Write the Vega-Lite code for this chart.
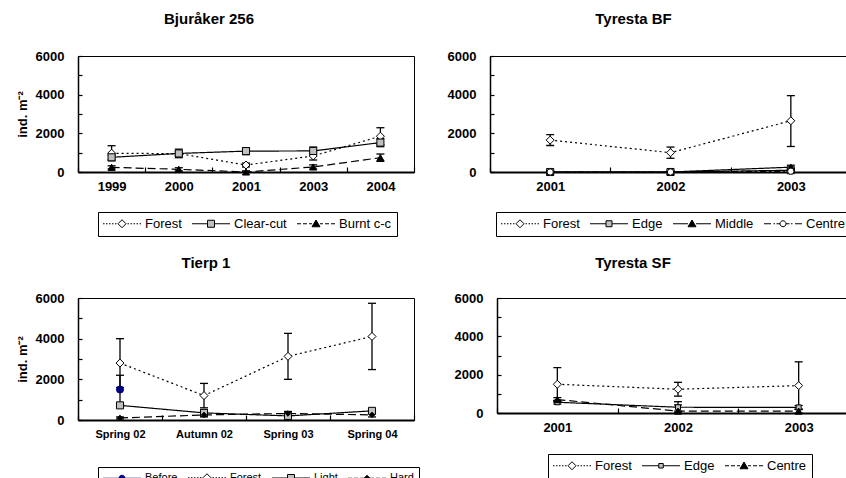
{
  "$schema": "https://vega.github.io/schema/vega-lite/v6.json",
  "padding": {"left": 15, "top": 11, "right": 0, "bottom": 0},
  "background": "white",
  "spacing": 18,
  "resolve": {"scale": {"shape": "independent", "fill": "independent", "stroke": "independent"}, "legend": {"shape": "independent", "fill": "independent", "stroke": "independent"}},
  "vconcat": [
    {
      "resolve": {"scale": {"shape": "independent", "fill": "independent", "stroke": "independent"}, "legend": {"shape": "independent", "fill": "independent", "stroke": "independent"}},
      "hconcat": [
        {
          "width": 336, "height": 116,
          "title": {"text": "Bjuråker 256", "dx": -37, "offset": 23},
          "data": {"values": [
            {"s":"Forest","x":"1999","y":970,"lo":580,"hi":1360},
            {"s":"Forest","x":"2000","y":950,"lo":850,"hi":1050},
            {"s":"Forest","x":"2001","y":360,"lo":260,"hi":460},
            {"s":"Forest","x":"2003","y":830,"lo":620,"hi":1040},
            {"s":"Forest","x":"2004","y":1850,"lo":1410,"hi":2290},
            {"s":"Clear-cut","x":"1999","y":760,"lo":650,"hi":870},
            {"s":"Clear-cut","x":"2000","y":960,"lo":740,"hi":1180},
            {"s":"Clear-cut","x":"2001","y":1080,"lo":900,"hi":1260},
            {"s":"Clear-cut","x":"2003","y":1090,"lo":890,"hi":1290},
            {"s":"Clear-cut","x":"2004","y":1520,"lo":1310,"hi":1730},
            {"s":"Burnt c-c","x":"1999","y":240,"lo":160,"hi":320},
            {"s":"Burnt c-c","x":"2000","y":140,"lo":60,"hi":220},
            {"s":"Burnt c-c","x":"2001","y":0,"lo":0,"hi":60},
            {"s":"Burnt c-c","x":"2003","y":260,"lo":150,"hi":370},
            {"s":"Burnt c-c","x":"2004","y":740,"lo":550,"hi":930}
          ]},
          "encoding": {
            "x": {"field": "x", "type": "ordinal", "scale": {"type": "band", "paddingInner": 0, "paddingOuter": 0, "domain": ["1999","2000","2001","2003","2004"]},
                  "axis": {"title": null, "tickBand": "extent", "tickSize": -5, "labelPadding": 13, "domainWidth": 2, "labelAngle": 0}}
          },
          "layer": [
            {"mark": {"type": "rule", "color": "black", "strokeWidth": 1.3},
             "encoding": {"y": {"field": "lo", "type": "quantitative", "scale": {"domain": [0, 6000], "nice": false}, "axis": {"values": [0,1000,2000,3000,4000,5000,6000], "format": "d", "labelExpr": "datum.value % 2000 === 0 ? datum.label : ''", "tickSize": -4, "labelPadding": 18, "domainWidth": 1.5, "title": "ind. m⁻²", "titlePadding": 6}}, "y2": {"field": "hi"}}},
            {"mark": {"type": "tick", "color": "black", "thickness": 1.3, "size": 8, "orient": "horizontal", "opacity": 1},
             "encoding": {"y": {"field": "lo", "type": "quantitative", "scale": {"domain": [0, 6000], "nice": false}, "axis": {"values": [0,1000,2000,3000,4000,5000,6000], "format": "d", "labelExpr": "datum.value % 2000 === 0 ? datum.label : ''", "tickSize": -4, "labelPadding": 18, "domainWidth": 1.5, "title": "ind. m⁻²", "titlePadding": 6}}}},
            {"mark": {"type": "tick", "color": "black", "thickness": 1.3, "size": 8, "orient": "horizontal", "opacity": 1},
             "encoding": {"y": {"field": "hi", "type": "quantitative", "scale": {"domain": [0, 6000], "nice": false}, "axis": {"values": [0,1000,2000,3000,4000,5000,6000], "format": "d", "labelExpr": "datum.value % 2000 === 0 ? datum.label : ''", "tickSize": -4, "labelPadding": 18, "domainWidth": 1.5, "title": "ind. m⁻²", "titlePadding": 6}}}},
            {"mark": {"type": "line", "color": "black", "strokeWidth": 1.2},
             "encoding": {
               "y": {"field": "y", "type": "quantitative", "scale": {"domain": [0, 6000], "nice": false}, "axis": {"values": [0,1000,2000,3000,4000,5000,6000], "format": "d", "labelExpr": "datum.value % 2000 === 0 ? datum.label : ''", "tickSize": -4, "labelPadding": 18, "domainWidth": 1.5, "title": "ind. m⁻²", "titlePadding": 6}},
               "detail": {"field": "s", "type": "nominal"},
               "strokeDash": {"condition": [{"test": "datum.s === 'Forest'", "value": [2,3]}, {"test": "datum.s === 'Burnt c-c'", "value": [8,4]}], "value": [1,0]},
               "order": {"value": null}
             }},
            {"mark": {"type": "point", "filled": true, "opacity": 1, "strokeWidth": 1, "stroke": "black"},
             "encoding": {
               "y": {"field": "y", "type": "quantitative", "scale": {"domain": [0, 6000], "nice": false}, "axis": {"values": [0,1000,2000,3000,4000,5000,6000], "format": "d", "labelExpr": "datum.value % 2000 === 0 ? datum.label : ''", "tickSize": -4, "labelPadding": 18, "domainWidth": 1.5, "title": "ind. m⁻²", "titlePadding": 6}},
               "shape": {"condition": [{"test": "datum.s === 'Forest'", "value": "diamond"}, {"test": "datum.s === 'Clear-cut'", "value": "square"}], "value": "triangle-up"},
               "fill": {"condition": [{"test": "datum.s === 'Forest'", "value": "white"}, {"test": "datum.s === 'Clear-cut'", "value": "#c0c0c0"}], "value": "black"},
               "size": {"condition": [{"test": "datum.s === 'Forest'", "value": 64}], "value": 50}
             }},
            {"mark": {"type": "point", "filled": true, "opacity": 0},
             "encoding": {
               "y": {"field": "y", "type": "quantitative", "scale": {"domain": [0, 6000], "nice": false}, "axis": {"values": [0,1000,2000,3000,4000,5000,6000], "format": "d", "labelExpr": "datum.value % 2000 === 0 ? datum.label : ''", "tickSize": -4, "labelPadding": 18, "domainWidth": 1.5, "title": "ind. m⁻²", "titlePadding": 6}},
               "shape": {"field": "s", "type": "nominal", "scale": {"domain": ["Forest","Clear-cut","Burnt c-c"], "range": ["M-3.8,0h0.3M-3.2,0h0.3M-2.6,0h0.3M-2,0h0.3M-1.4,0h0.3M1.1,0h0.3M1.7,0h0.3M2.3,0h0.3M2.9,0h0.3M3.5,0h0.3M0,-0.8L0.8,0L0,0.8L-0.8,0Z", "M-3.8,0H-0.7M0.7,0H3.8M-0.7,-0.7H0.7V0.7H-0.7Z", "M-3.8,0H-3M-2.6,0H-1.8M-1.4,0H-0.8M0.8,0H1.4M1.8,0H2.6M3,0H3.8M0,-0.75L0.8,0.6L-0.8,0.6Z"]},
                 "legend": {"orient": "none", "legendX": 20, "legendY": 156, "direction": "horizontal", "title": null, "symbolSize": 100, "symbolOffset": 12.5, "labelOffset": 16.5, "columnPadding": 8, "labelFontSize": 13, "symbolOpacity": 1, "symbolStrokeWidth": 1}},
               "fill": {"field": "s", "type": "nominal", "scale": {"domain": ["Forest","Clear-cut","Burnt c-c"], "range": ["white","#c0c0c0","black"]},
                 "legend": {"orient": "none", "legendX": 20, "legendY": 156, "direction": "horizontal", "title": null, "symbolSize": 100, "symbolOffset": 12.5, "labelOffset": 16.5, "columnPadding": 8, "labelFontSize": 13, "symbolOpacity": 1, "symbolStrokeWidth": 1}},
               "stroke": {"field": "s", "type": "nominal", "scale": {"domain": ["Forest","Clear-cut","Burnt c-c"], "range": ["black","black","black"]},
                 "legend": {"orient": "none", "legendX": 20, "legendY": 156, "direction": "horizontal", "title": null, "symbolSize": 100, "symbolOffset": 12.5, "labelOffset": 16.5, "columnPadding": 8, "labelFontSize": 13, "symbolOpacity": 1, "symbolStrokeWidth": 1}}
             }}
          ]
        },
        {
          "width": 361, "height": 116,
          "title": {"text": "Tyresta BF", "dx": -37, "offset": 23},
          "data": {"values": [
            {"s":"Forest","x":"2001","y":1650,"lo":1370,"hi":1930},
            {"s":"Forest","x":"2002","y":1000,"lo":710,"hi":1290},
            {"s":"Forest","x":"2003","y":2650,"lo":1320,"hi":3950},
            {"s":"Edge","x":"2001","y":0,"lo":0,"hi":40},
            {"s":"Edge","x":"2002","y":0,"lo":0,"hi":40},
            {"s":"Edge","x":"2003","y":90,"lo":30,"hi":150},
            {"s":"Middle","x":"2001","y":0,"lo":0,"hi":40},
            {"s":"Middle","x":"2002","y":0,"lo":0,"hi":40},
            {"s":"Middle","x":"2003","y":250,"lo":150,"hi":350},
            {"s":"Centre","x":"2001","y":0,"lo":0,"hi":40},
            {"s":"Centre","x":"2002","y":0,"lo":0,"hi":40},
            {"s":"Centre","x":"2003","y":40,"lo":0,"hi":80}
          ]},
          "encoding": {
            "x": {"field": "x", "type": "ordinal", "scale": {"type": "band", "paddingInner": 0, "paddingOuter": 0, "domain": ["2001","2002","2003"]},
                  "axis": {"title": null, "tickBand": "extent", "tickSize": -5, "labelPadding": 13, "domainWidth": 2, "labelAngle": 0}}
          },
          "layer": [
            {"mark": {"type": "rule", "color": "black", "strokeWidth": 1.3},
             "encoding": {"y": {"field": "lo", "type": "quantitative", "scale": {"domain": [0, 6000], "nice": false}, "axis": {"values": [0,1000,2000,3000,4000,5000,6000], "format": "d", "labelExpr": "datum.value % 2000 === 0 ? datum.label : ''", "tickSize": -4, "labelPadding": 18, "domainWidth": 1.5, "title": null}}, "y2": {"field": "hi"}}},
            {"mark": {"type": "tick", "color": "black", "thickness": 1.3, "size": 8, "orient": "horizontal", "opacity": 1},
             "encoding": {"y": {"field": "lo", "type": "quantitative", "scale": {"domain": [0, 6000], "nice": false}, "axis": {"values": [0,1000,2000,3000,4000,5000,6000], "format": "d", "labelExpr": "datum.value % 2000 === 0 ? datum.label : ''", "tickSize": -4, "labelPadding": 18, "domainWidth": 1.5, "title": null}}}},
            {"mark": {"type": "tick", "color": "black", "thickness": 1.3, "size": 8, "orient": "horizontal", "opacity": 1},
             "encoding": {"y": {"field": "hi", "type": "quantitative", "scale": {"domain": [0, 6000], "nice": false}, "axis": {"values": [0,1000,2000,3000,4000,5000,6000], "format": "d", "labelExpr": "datum.value % 2000 === 0 ? datum.label : ''", "tickSize": -4, "labelPadding": 18, "domainWidth": 1.5, "title": null}}}},
            {"mark": {"type": "line", "color": "black", "strokeWidth": 1.2},
             "encoding": {
               "y": {"field": "y", "type": "quantitative", "scale": {"domain": [0, 6000], "nice": false}, "axis": {"values": [0,1000,2000,3000,4000,5000,6000], "format": "d", "labelExpr": "datum.value % 2000 === 0 ? datum.label : ''", "tickSize": -4, "labelPadding": 18, "domainWidth": 1.5, "title": null}},
               "detail": {"field": "s", "type": "nominal"},
               "strokeDash": {"condition": [{"test": "datum.s === 'Forest'", "value": [2,3]}, {"test": "datum.s === 'Centre'", "value": [6,3,2,3]}], "value": [1,0]},
               "order": {"value": null}
             }},
            {"mark": {"type": "point", "filled": true, "opacity": 1, "strokeWidth": 1, "stroke": "black"},
             "encoding": {
               "y": {"field": "y", "type": "quantitative", "scale": {"domain": [0, 6000], "nice": false}, "axis": {"values": [0,1000,2000,3000,4000,5000,6000], "format": "d", "labelExpr": "datum.value % 2000 === 0 ? datum.label : ''", "tickSize": -4, "labelPadding": 18, "domainWidth": 1.5, "title": null}},
               "shape": {"condition": [{"test": "datum.s === 'Forest'", "value": "diamond"}, {"test": "datum.s === 'Edge'", "value": "square"}, {"test": "datum.s === 'Middle'", "value": "triangle-up"}], "value": "circle"},
               "fill": {"condition": [{"test": "datum.s === 'Forest'", "value": "white"}, {"test": "datum.s === 'Edge'", "value": "#c0c0c0"}, {"test": "datum.s === 'Middle'", "value": "black"}], "value": "white"},
               "size": {"condition": [{"test": "datum.s === 'Forest'", "value": 64}, {"test": "datum.s === 'Centre'", "value": 40}], "value": 50}
             }},
            {"mark": {"type": "point", "filled": true, "opacity": 0},
             "encoding": {
               "y": {"field": "y", "type": "quantitative", "scale": {"domain": [0, 6000], "nice": false}, "axis": {"values": [0,1000,2000,3000,4000,5000,6000], "format": "d", "labelExpr": "datum.value % 2000 === 0 ? datum.label : ''", "tickSize": -4, "labelPadding": 18, "domainWidth": 1.5, "title": null}},
               "shape": {"field": "s", "type": "nominal", "scale": {"domain": ["Forest","Edge","Middle","Centre"], "range": ["M-3.8,0h0.3M-3.2,0h0.3M-2.6,0h0.3M-2,0h0.3M-1.4,0h0.3M1.1,0h0.3M1.7,0h0.3M2.3,0h0.3M2.9,0h0.3M3.5,0h0.3M0,-0.8L0.8,0L0,0.8L-0.8,0Z", "M-3.8,0H-0.6M0.6,0H3.8M-0.6,-0.6H0.6V0.6H-0.6Z", "M-3.8,0H-0.8M0.8,0H3.8M0,-0.75L0.8,0.6L-0.8,0.6Z", "M-3.8,0H-2.4M-1.9,0h0.3M-1.3,0H-0.6M0.6,0H1.3M1.6,0h0.3M2.4,0H3.8M0.6,0A0.6,0.6 0 1,1 -0.6,0A0.6,0.6 0 1,1 0.6,0Z"]},
                 "legend": {"orient": "none", "legendX": 6, "legendY": 156, "direction": "horizontal", "title": null, "symbolSize": 100, "symbolOffset": 12.5, "labelOffset": 16.5, "columnPadding": 8, "labelFontSize": 13, "symbolOpacity": 1, "symbolStrokeWidth": 1}},
               "fill": {"field": "s", "type": "nominal", "scale": {"domain": ["Forest","Edge","Middle","Centre"], "range": ["white","#c0c0c0","black","white"]},
                 "legend": {"orient": "none", "legendX": 6, "legendY": 156, "direction": "horizontal", "title": null, "symbolSize": 100, "symbolOffset": 12.5, "labelOffset": 16.5, "columnPadding": 8, "labelFontSize": 13, "symbolOpacity": 1, "symbolStrokeWidth": 1}},
               "stroke": {"field": "s", "type": "nominal", "scale": {"domain": ["Forest","Edge","Middle","Centre"], "range": ["black","black","black","black"]},
                 "legend": {"orient": "none", "legendX": 6, "legendY": 156, "direction": "horizontal", "title": null, "symbolSize": 100, "symbolOffset": 12.5, "labelOffset": 16.5, "columnPadding": 8, "labelFontSize": 13, "symbolOpacity": 1, "symbolStrokeWidth": 1}}
             }}
          ]
        }
      ],
      "spacing": 76, "bounds": "flush"
    },
    {
      "resolve": {"scale": {"shape": "independent", "fill": "independent", "stroke": "independent"}, "legend": {"shape": "independent", "fill": "independent", "stroke": "independent"}},
      "hconcat": [
        {
          "width": 336, "height": 122,
          "title": {"text": "Tierp 1", "dx": -40, "offset": 21},
          "data": {"values": [
            {"s":"Before","x":"Spring 02","y":1500,"lo":800,"hi":2200},
            {"s":"Forest","x":"Spring 02","y":2800,"lo":1600,"hi":4000},
            {"s":"Forest","x":"Autumn 02","y":1200,"lo":600,"hi":1800},
            {"s":"Forest","x":"Spring 03","y":3130,"lo":2000,"hi":4260},
            {"s":"Forest","x":"Spring 04","y":4110,"lo":2480,"hi":5740},
            {"s":"Light","x":"Spring 02","y":720,"lo":620,"hi":820},
            {"s":"Light","x":"Autumn 02","y":350,"lo":200,"hi":500},
            {"s":"Light","x":"Spring 03","y":200,"lo":100,"hi":300},
            {"s":"Light","x":"Spring 04","y":450,"lo":350,"hi":550},
            {"s":"Hard","x":"Spring 02","y":100,"lo":50,"hi":150},
            {"s":"Hard","x":"Autumn 02","y":250,"lo":150,"hi":350},
            {"s":"Hard","x":"Spring 03","y":320,"lo":220,"hi":420},
            {"s":"Hard","x":"Spring 04","y":250,"lo":150,"hi":350}
          ]},
          "encoding": {
            "x": {"field": "x", "type": "ordinal", "scale": {"type": "band", "paddingInner": 0, "paddingOuter": 0, "domain": ["Spring 02","Autumn 02","Spring 03","Spring 04"]},
                  "axis": {"title": null, "tickBand": "extent", "tickSize": -5, "labelPadding": 13, "domainWidth": 2, "labelAngle": 0, "labelFontSize": 11}}
          },
          "layer": [
            {"mark": {"type": "rule", "color": "black", "strokeWidth": 1.3},
             "encoding": {"y": {"field": "lo", "type": "quantitative", "scale": {"domain": [0, 6000], "nice": false}, "axis": {"values": [0,1000,2000,3000,4000,5000,6000], "format": "d", "labelExpr": "datum.value % 2000 === 0 ? datum.label : ''", "tickSize": -4, "labelPadding": 18, "domainWidth": 1.5, "title": "ind. m⁻²", "titlePadding": 6}}, "y2": {"field": "hi"}}},
            {"mark": {"type": "tick", "color": "black", "thickness": 1.3, "size": 8, "orient": "horizontal", "opacity": 1},
             "encoding": {"y": {"field": "lo", "type": "quantitative", "scale": {"domain": [0, 6000], "nice": false}, "axis": {"values": [0,1000,2000,3000,4000,5000,6000], "format": "d", "labelExpr": "datum.value % 2000 === 0 ? datum.label : ''", "tickSize": -4, "labelPadding": 18, "domainWidth": 1.5, "title": "ind. m⁻²", "titlePadding": 6}}}},
            {"mark": {"type": "tick", "color": "black", "thickness": 1.3, "size": 8, "orient": "horizontal", "opacity": 1},
             "encoding": {"y": {"field": "hi", "type": "quantitative", "scale": {"domain": [0, 6000], "nice": false}, "axis": {"values": [0,1000,2000,3000,4000,5000,6000], "format": "d", "labelExpr": "datum.value % 2000 === 0 ? datum.label : ''", "tickSize": -4, "labelPadding": 18, "domainWidth": 1.5, "title": "ind. m⁻²", "titlePadding": 6}}}},
            {"mark": {"type": "line", "color": "black", "strokeWidth": 1.2},
             "encoding": {
               "y": {"field": "y", "type": "quantitative", "scale": {"domain": [0, 6000], "nice": false}, "axis": {"values": [0,1000,2000,3000,4000,5000,6000], "format": "d", "labelExpr": "datum.value % 2000 === 0 ? datum.label : ''", "tickSize": -4, "labelPadding": 18, "domainWidth": 1.5, "title": "ind. m⁻²", "titlePadding": 6}},
               "detail": {"field": "s", "type": "nominal"},
               "strokeDash": {"condition": [{"test": "datum.s === 'Forest'", "value": [2,3]}, {"test": "datum.s === 'Hard'", "value": [8,4]}], "value": [1,0]},
               "order": {"value": null}
             }},
            {"mark": {"type": "point", "filled": true, "opacity": 1, "strokeWidth": 1},
             "encoding": {
               "y": {"field": "y", "type": "quantitative", "scale": {"domain": [0, 6000], "nice": false}, "axis": {"values": [0,1000,2000,3000,4000,5000,6000], "format": "d", "labelExpr": "datum.value % 2000 === 0 ? datum.label : ''", "tickSize": -4, "labelPadding": 18, "domainWidth": 1.5, "title": "ind. m⁻²", "titlePadding": 6}},
               "shape": {"condition": [{"test": "datum.s === 'Before'", "value": "circle"}, {"test": "datum.s === 'Light'", "value": "square"}], "value": "diamond"},
               "fill": {"condition": [{"test": "datum.s === 'Before'", "value": "#000080"}, {"test": "datum.s === 'Forest'", "value": "white"}, {"test": "datum.s === 'Light'", "value": "#c0c0c0"}], "value": "black"},
               "stroke": {"condition": [{"test": "datum.s === 'Before'", "value": "#000080"}], "value": "black"},
               "size": {"condition": [{"test": "datum.s === 'Forest'", "value": 64}, {"test": "datum.s === 'Hard'", "value": 30}], "value": 50}
             }},
            {"mark": {"type": "point", "filled": true, "opacity": 0},
             "encoding": {
               "y": {"field": "y", "type": "quantitative", "scale": {"domain": [0, 6000], "nice": false}, "axis": {"values": [0,1000,2000,3000,4000,5000,6000], "format": "d", "labelExpr": "datum.value % 2000 === 0 ? datum.label : ''", "tickSize": -4, "labelPadding": 18, "domainWidth": 1.5, "title": "ind. m⁻²", "titlePadding": 6}},
               "shape": {"field": "s", "type": "nominal", "scale": {"domain": ["Before","Forest","Light","Hard"], "range": ["M-3.8,0H-0.6M0.6,0H3.8M0.6,0A0.6,0.6 0 1,1 -0.6,0A0.6,0.6 0 1,1 0.6,0Z", "M-3.8,0h0.3M-3.2,0h0.3M-2.6,0h0.3M-2,0h0.3M-1.4,0h0.3M1.1,0h0.3M1.7,0h0.3M2.3,0h0.3M2.9,0h0.3M3.5,0h0.3M0,-0.8L0.8,0L0,0.8L-0.8,0Z", "M-3.8,0H-0.7M0.7,0H3.8M-0.7,-0.7H0.7V0.7H-0.7Z", "M-3.8,0H-3M-2.6,0H-1.8M-1.4,0H-0.6M0.6,0H1.4M1.8,0H2.6M3,0H3.8M0,-0.6L0.6,0L0,0.6L-0.6,0Z"]},
                 "legend": {"orient": "none", "legendX": 20, "legendY": 169, "direction": "horizontal", "title": null, "symbolSize": 100, "symbolOffset": 13.5, "labelOffset": 17.5, "columnPadding": 8, "labelFontSize": 11, "symbolOpacity": 1, "symbolStrokeWidth": 1}},
               "fill": {"field": "s", "type": "nominal", "scale": {"domain": ["Before","Forest","Light","Hard"], "range": ["#000080","white","#c0c0c0","black"]},
                 "legend": {"orient": "none", "legendX": 20, "legendY": 169, "direction": "horizontal", "title": null, "symbolSize": 100, "symbolOffset": 13.5, "labelOffset": 17.5, "columnPadding": 8, "labelFontSize": 11, "symbolOpacity": 1, "symbolStrokeWidth": 1}},
               "stroke": {"field": "s", "type": "nominal", "scale": {"domain": ["Before","Forest","Light","Hard"], "range": ["#000080","black","black","black"]},
                 "legend": {"orient": "none", "legendX": 20, "legendY": 169, "direction": "horizontal", "title": null, "symbolSize": 100, "symbolOffset": 13.5, "labelOffset": 17.5, "columnPadding": 8, "labelFontSize": 11, "symbolOpacity": 1, "symbolStrokeWidth": 1}}
             }}
          ]
        },
        {
          "width": 362, "height": 115,
          "title": {"text": "Tyresta SF", "dx": -45, "offset": 21},
          "data": {"values": [
            {"s":"Forest","x":"2001","y":1500,"lo":640,"hi":2370},
            {"s":"Forest","x":"2002","y":1240,"lo":880,"hi":1600},
            {"s":"Forest","x":"2003","y":1430,"lo":180,"hi":2670},
            {"s":"Edge","x":"2001","y":560,"lo":460,"hi":660},
            {"s":"Edge","x":"2002","y":300,"lo":100,"hi":590},
            {"s":"Edge","x":"2003","y":290,"lo":190,"hi":390},
            {"s":"Centre","x":"2001","y":700,"lo":600,"hi":800},
            {"s":"Centre","x":"2002","y":100,"lo":0,"hi":420},
            {"s":"Centre","x":"2003","y":100,"lo":0,"hi":200}
          ]},
          "encoding": {
            "x": {"field": "x", "type": "ordinal", "scale": {"type": "band", "paddingInner": 0, "paddingOuter": 0, "domain": ["2001","2002","2003"]},
                  "axis": {"title": null, "tickBand": "extent", "tickSize": -5, "labelPadding": 13, "domainWidth": 2, "labelAngle": 0}}
          },
          "layer": [
            {"mark": {"type": "rule", "color": "black", "strokeWidth": 1.3},
             "encoding": {"y": {"field": "lo", "type": "quantitative", "scale": {"domain": [0, 6000], "nice": false}, "axis": {"values": [0,1000,2000,3000,4000,5000,6000], "format": "d", "labelExpr": "datum.value % 2000 === 0 ? datum.label : ''", "tickSize": -4, "labelPadding": 18, "domainWidth": 1.5, "title": null}}, "y2": {"field": "hi"}}},
            {"mark": {"type": "tick", "color": "black", "thickness": 1.3, "size": 8, "orient": "horizontal", "opacity": 1},
             "encoding": {"y": {"field": "lo", "type": "quantitative", "scale": {"domain": [0, 6000], "nice": false}, "axis": {"values": [0,1000,2000,3000,4000,5000,6000], "format": "d", "labelExpr": "datum.value % 2000 === 0 ? datum.label : ''", "tickSize": -4, "labelPadding": 18, "domainWidth": 1.5, "title": null}}}},
            {"mark": {"type": "tick", "color": "black", "thickness": 1.3, "size": 8, "orient": "horizontal", "opacity": 1},
             "encoding": {"y": {"field": "hi", "type": "quantitative", "scale": {"domain": [0, 6000], "nice": false}, "axis": {"values": [0,1000,2000,3000,4000,5000,6000], "format": "d", "labelExpr": "datum.value % 2000 === 0 ? datum.label : ''", "tickSize": -4, "labelPadding": 18, "domainWidth": 1.5, "title": null}}}},
            {"mark": {"type": "line", "color": "black", "strokeWidth": 1.2},
             "encoding": {
               "y": {"field": "y", "type": "quantitative", "scale": {"domain": [0, 6000], "nice": false}, "axis": {"values": [0,1000,2000,3000,4000,5000,6000], "format": "d", "labelExpr": "datum.value % 2000 === 0 ? datum.label : ''", "tickSize": -4, "labelPadding": 18, "domainWidth": 1.5, "title": null}},
               "detail": {"field": "s", "type": "nominal"},
               "strokeDash": {"condition": [{"test": "datum.s === 'Forest'", "value": [2,3]}, {"test": "datum.s === 'Centre'", "value": [8,4]}], "value": [1,0]},
               "order": {"value": null}
             }},
            {"mark": {"type": "point", "filled": true, "opacity": 1, "strokeWidth": 1, "stroke": "black"},
             "encoding": {
               "y": {"field": "y", "type": "quantitative", "scale": {"domain": [0, 6000], "nice": false}, "axis": {"values": [0,1000,2000,3000,4000,5000,6000], "format": "d", "labelExpr": "datum.value % 2000 === 0 ? datum.label : ''", "tickSize": -4, "labelPadding": 18, "domainWidth": 1.5, "title": null}},
               "shape": {"condition": [{"test": "datum.s === 'Forest'", "value": "diamond"}, {"test": "datum.s === 'Edge'", "value": "square"}], "value": "triangle-up"},
               "fill": {"condition": [{"test": "datum.s === 'Forest'", "value": "white"}, {"test": "datum.s === 'Edge'", "value": "#c0c0c0"}], "value": "black"},
               "size": {"condition": [{"test": "datum.s === 'Forest'", "value": 64}, {"test": "datum.s === 'Edge'", "value": 25}], "value": 50}
             }},
            {"mark": {"type": "point", "filled": true, "opacity": 0},
             "encoding": {
               "y": {"field": "y", "type": "quantitative", "scale": {"domain": [0, 6000], "nice": false}, "axis": {"values": [0,1000,2000,3000,4000,5000,6000], "format": "d", "labelExpr": "datum.value % 2000 === 0 ? datum.label : ''", "tickSize": -4, "labelPadding": 18, "domainWidth": 1.5, "title": null}},
               "shape": {"field": "s", "type": "nominal", "scale": {"domain": ["Forest","Edge","Centre"], "range": ["M-3.8,0h0.3M-3.2,0h0.3M-2.6,0h0.3M-2,0h0.3M-1.4,0h0.3M1.1,0h0.3M1.7,0h0.3M2.3,0h0.3M2.9,0h0.3M3.5,0h0.3M0,-0.8L0.8,0L0,0.8L-0.8,0Z", "M-3.8,0H-0.45M0.45,0H3.8M-0.45,-0.45H0.45V0.45H-0.45Z", "M-3.8,0H-3M-2.6,0H-1.8M-1.4,0H-0.8M0.8,0H1.4M1.8,0H2.6M3,0H3.8M0,-0.75L0.8,0.6L-0.8,0.6Z"]},
                 "legend": {"orient": "none", "legendX": 51, "legendY": 156, "direction": "horizontal", "title": null, "symbolSize": 100, "symbolOffset": 12.5, "labelOffset": 16.5, "columnPadding": 8, "labelFontSize": 13, "symbolOpacity": 1, "symbolStrokeWidth": 1}},
               "fill": {"field": "s", "type": "nominal", "scale": {"domain": ["Forest","Edge","Centre"], "range": ["white","#c0c0c0","black"]},
                 "legend": {"orient": "none", "legendX": 51, "legendY": 156, "direction": "horizontal", "title": null, "symbolSize": 100, "symbolOffset": 12.5, "labelOffset": 16.5, "columnPadding": 8, "labelFontSize": 13, "symbolOpacity": 1, "symbolStrokeWidth": 1}},
               "stroke": {"field": "s", "type": "nominal", "scale": {"domain": ["Forest","Edge","Centre"], "range": ["black","black","black"]},
                 "legend": {"orient": "none", "legendX": 51, "legendY": 156, "direction": "horizontal", "title": null, "symbolSize": 100, "symbolOffset": 12.5, "labelOffset": 16.5, "columnPadding": 8, "labelFontSize": 13, "symbolOpacity": 1, "symbolStrokeWidth": 1}}
             }}
          ]
        }
      ],
      "spacing": 83, "bounds": "flush"
    }
  ],
  "config": {
    "font": "Liberation Sans",
    "view": {"stroke": "black", "strokeWidth": 1},
    "axis": {"labelFont": "Liberation Sans", "labelFontWeight": "bold", "labelFontSize": 13, "labelColor": "black", "domainColor": "black", "tickColor": "black", "tickWidth": 1.2, "grid": false, "titleFont": "Liberation Sans", "titleFontWeight": "bold", "titleFontSize": 13, "titleColor": "black"},
    "title": {"font": "Liberation Sans", "fontSize": 15, "fontWeight": "bold", "color": "black", "anchor": "middle"},
    "legend": {"labelFont": "Liberation Sans", "labelColor": "black", "strokeColor": "black", "fillColor": "white", "padding": 5, "cornerRadius": 0, "labelLimit": 300}
  }
}
